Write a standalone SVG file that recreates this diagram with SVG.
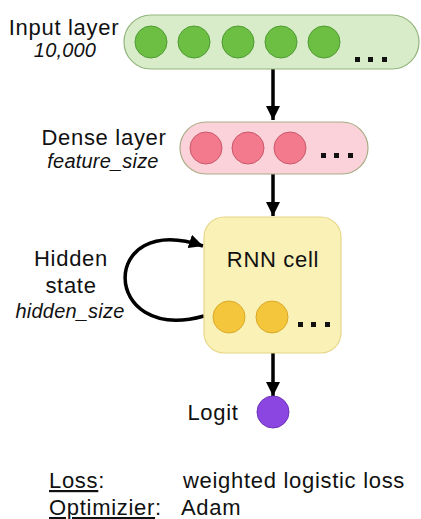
<svg xmlns="http://www.w3.org/2000/svg" width="421" height="519" viewBox="0 0 421 519">
  <style>
    text { font-family: "Liberation Sans", Arial, Helvetica, sans-serif; fill: #111; }
    .lbl { font-size: 22px; letter-spacing: 0.7px; }
    .sub { font-size: 20px; font-style: italic; letter-spacing: 0.2px; }
    .green-box { fill: #d8ecc9; stroke: #93b47d; stroke-width: 1.2; }
    .green { fill: #6cbf43; stroke: #4f9a33; stroke-width: 1; }
    .pink-box { fill: #fbd2da; stroke: #a9ab86; stroke-width: 1.2; }
    .pink { fill: #f37a8c; stroke: #c8576a; stroke-width: 1; }
    .yellow-box { fill: #f9f1b6; stroke: #e6d68a; stroke-width: 1.2; }
    .yellow { fill: #f4c63b; stroke: #d9a927; stroke-width: 1; }
    .dot { fill: #111; }
    .conn { fill: none; stroke: #000; stroke-width: 3.5; }
  </style>
  <defs>
    <marker id="arrow" viewBox="0 0 10 10" refX="10" refY="5" markerWidth="4" markerHeight="4" markerUnits="strokeWidth" orient="auto">
      <path d="M0,0 L10,5 L0,10 Z" fill="#000"/>
    </marker>
  </defs>

  <!-- connectors -->
  <g id="connectors">
    <line class="conn" x1="273" y1="69" x2="273" y2="120" marker-end="url(#arrow)"/>
    <line class="conn" x1="273" y1="174" x2="273" y2="216" marker-end="url(#arrow)"/>
    <line class="conn" x1="273" y1="353" x2="273" y2="396" marker-end="url(#arrow)"/>
    <path class="conn" d="M204,316 C100,345 98,210 203,246" marker-end="url(#arrow)"/>
  </g>

  <!-- input layer -->
  <g id="input-layer">
    <rect class="green-box" x="124" y="15" width="295" height="54" rx="27"/>
    <circle class="green" cx="151" cy="42" r="16"/>
    <circle class="green" cx="194" cy="42" r="16"/>
    <circle class="green" cx="238" cy="42" r="16"/>
    <circle class="green" cx="281" cy="42" r="16"/>
    <circle class="green" cx="324" cy="42" r="16"/>
    <rect class="dot" x="355" y="57" width="5" height="5"/>
    <rect class="dot" x="368" y="57" width="5" height="5"/>
    <rect class="dot" x="382" y="57" width="5" height="5"/>
    <text class="lbl" x="64" y="35" text-anchor="middle">Input layer</text>
    <text class="sub" x="65" y="57" text-anchor="middle">10,000</text>
  </g>

  <!-- dense layer -->
  <g id="dense-layer">
    <rect class="pink-box" x="180" y="122" width="188" height="52" rx="26"/>
    <circle class="pink" cx="206" cy="148" r="16"/>
    <circle class="pink" cx="248" cy="148" r="16"/>
    <circle class="pink" cx="290" cy="148" r="16"/>
    <rect class="dot" x="321" y="153" width="5" height="5"/>
    <rect class="dot" x="334" y="153" width="5" height="5"/>
    <rect class="dot" x="348" y="153" width="5" height="5"/>
    <text class="lbl" x="104" y="145" text-anchor="middle">Dense layer</text>
    <text class="sub" x="103" y="168" text-anchor="middle">feature_size</text>
  </g>

  <!-- recurrent cell -->
  <g id="rnn-cell">
    <rect class="yellow-box" x="204" y="217" width="137" height="136" rx="20"/>
    <text class="lbl" x="273" y="267" text-anchor="middle">RNN cell</text>
    <circle class="yellow" cx="229" cy="317" r="16"/>
    <circle class="yellow" cx="272" cy="317" r="16"/>
    <rect class="dot" x="298" y="322" width="5" height="5"/>
    <rect class="dot" x="311" y="322" width="5" height="5"/>
    <rect class="dot" x="325" y="322" width="5" height="5"/>
  </g>

  <g id="hidden-state">
    <text class="lbl" x="71" y="266" text-anchor="middle">Hidden</text>
    <text class="lbl" x="71" y="293" text-anchor="middle">state</text>
    <text class="sub" x="70" y="318" text-anchor="middle">hidden_size</text>
  </g>

  <!-- output -->
  <g id="logit">
    <circle cx="273" cy="412" r="16" fill="#8b45e0" stroke="#6d33b8" stroke-width="1"/>
    <text class="lbl" x="213" y="420" text-anchor="middle">Logit</text>
  </g>

  <!-- training settings -->
  <g id="training">
    <text class="lbl" x="49" y="488"><tspan text-decoration="underline">Loss</tspan>:</text>
    <text class="lbl" x="183" y="488">weighted logistic loss</text>
    <text class="lbl" x="49" y="515"><tspan text-decoration="underline">Optimizier</tspan>:</text>
    <text class="lbl" x="181" y="515">Adam</text>
  </g>
</svg>
